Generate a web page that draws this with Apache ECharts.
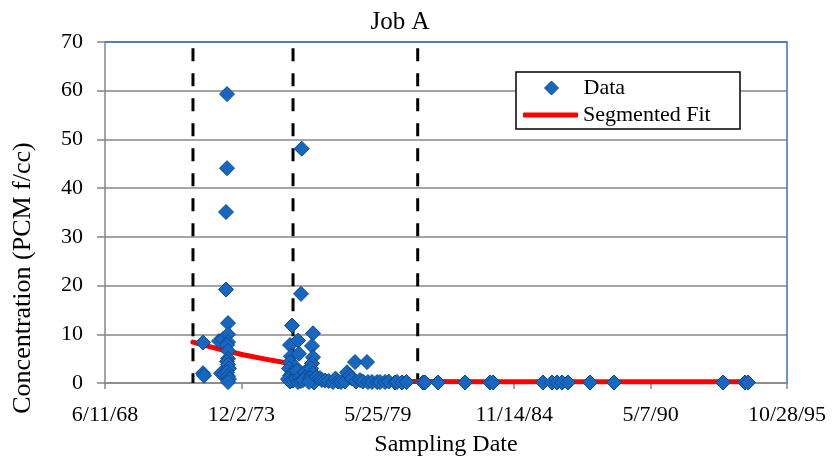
<!DOCTYPE html>
<html>
<head>
<meta charset="utf-8">
<script src="https://cdn.jsdelivr.net/npm/echarts@6/dist/echarts.min.js"></script>
<style>
html,body{margin:0;padding:0;background:#fff;}
#chart{width:837px;height:462px;}
</style>
</head>
<body>
<div id="chart"></div>
<script>
// X axis is in spreadsheet day-serial numbers (25000 = 6/11/68)
const xTickLabels = ['6/11/68', '12/2/73', '5/25/79', '11/14/84', '5/7/90', '10/28/95'];
const yTickLabels = ['0', '10', '20', '30', '40', '50', '60', '70'];

const sampleDays = [
  26437, 26437, 26452, 26672, 26701, 26730, 26745, 26789, 26789, 26774, 26774, 26804,
  26804, 26804, 26789, 26804, 26804, 26789, 26804, 26818, 26789, 26804, 26818, 26804,
  27884, 27874, 27742, 27713, 27830, 27727, 27713, 27786, 27698, 27742, 27713, 27683,
  27713, 27757, 27800, 27830, 27844, 27815, 27859, 27874,
  27930, 27960, 27905,
  28050, 28035, 28050, 28035, 28020, 28050, 28006, 28050, 28064, 27991,
  28100, 28153, 28180, 28226, 28280, 28343, 28380, 28417, 28460, 28519, 28549, 28592,
  28620, 28666, 28680, 28739, 28780, 28842, 28856,
  28915, 28990, 29032, 29106, 29160, 29252, 29282, 29355, 29420,
  29663, 29692, 29883, 30279, 30645, 30689, 31422, 31554, 31628, 31701, 31789, 32112,
  32463, 34062, 34384, 34428
];
const sampleConc = [
  8.3, 2.0, 1.5, 8.6, 2.0, 9.0, 1.8, 59.3, 44.1, 35.1, 19.2, 12.3,
  10.0, 8.4, 7.8, 6.6, 5.0, 4.4, 3.8, 3.0, 2.2, 1.4, 0.8, 0.2,
  48.1, 18.3, 11.8, 7.8, 8.7, 5.5, 4.3, 3.3, 3.0, 2.0, 1.5, 0.8,
  0.3, 0.5, 1.0, 0.2, 6.0, 2.5, 1.2, 0.4,
  2.2, 1.5, 0.6,
  10.2, 7.6, 5.3, 4.0, 3.0, 2.0, 1.0, 0.5, 0.1, 0.2,
  1.2, 1.0, 0.6, 0.5, 0.4, 0.2, 0.9, 0.3, 0.2, 0.3, 2.2, 1.5,
  0.9, 4.3, 0.3, 0.6, 0.3, 4.3, 0.2,
  0.2, 0.2, 0.2, 0.2, 0.3, 0.1, 0.2, 0.1, 0.2,
  0.1, 0.1, 0.1, 0.1, 0.1, 0.1, 0.1, 0.1, 0.1, 0.1, 0.1, 0.1,
  0.1, 0.1, 0.1, 0.1
];

const fitDays = [26290, 26657, 27024, 27390, 27757, 28000, 28300, 28700, 29100, 29585, 30500, 31500, 32500, 33500, 34428];
const fitConc = [8.4, 7.0, 5.8, 4.8, 3.9, 2.0, 0.8, 0.4, 0.32, 0.3, 0.26, 0.25, 0.25, 0.25, 0.25];

const breakDays = [26290, 27757, 29585];
const breakTop = 68.7;

const FONT = '"Liberation Serif", "DejaVu Serif", serif';
const GRAY = '#878787';
const BLUE_BORDER = '#2F74C8';
const MARK_FILL = '#1767C1';
const MARK_EDGE = '#0C4A8E';

const chart = echarts.init(document.getElementById('chart'), null, {renderer: 'canvas'});

const series = [];
breakDays.forEach(function (d) {
  series.push({
    type: 'line',
    silent: true,
    symbol: 'none',
    data: [[d, breakTop], [d, 0]],
    lineStyle: {color: '#000', width: 3, type: [13, 12]},
    z: 2
  });
});
series.push({
  name: 'Segmented Fit',
  type: 'line',
  symbol: 'none',
  showSymbol: false,
  data: fitDays.map(function (d, i) { return [d, fitConc[i]]; }),
  lineStyle: {color: '#FF0000', width: 5, cap: 'round', join: 'round'},
  itemStyle: {color: '#FF0000'},
  z: 3
});
series.push({
  name: 'Data',
  type: 'scatter',
  symbol: 'diamond',
  symbolSize: 15,
  data: sampleDays.map(function (d, i) { return [d, sampleConc[i]]; }),
  itemStyle: {color: MARK_FILL, borderColor: MARK_EDGE, borderWidth: 1, opacity: 1},
  z: 4
});

chart.setOption({
  backgroundColor: '#ffffff',
  animation: false,
  title: {
    text: 'Job A',
    left: 395,
    top: 5,
    textAlign: 'center',
    textStyle: {fontFamily: FONT, fontSize: 25, fontWeight: 'normal', color: '#000'}
  },
  grid: {left: 105, right: 50, top: 42, bottom: 78, containLabel: false},
  legend: [{
    data: [{name: 'Data', icon: 'diamond'}],
    left: 544,
    top: 77,
    padding: 0,
    itemWidth: 14,
    itemHeight: 14,
    z: 20,
    itemStyle: {color: MARK_FILL, borderColor: MARK_EDGE, borderWidth: 1},
    textStyle: {fontFamily: FONT, fontSize: 22, color: '#000', lineHeight: 22, padding: [0, 0, 0, 20]}
  }, {
    data: [{name: 'Segmented Fit', icon: 'roundRect'}],
    left: 523,
    top: 104,
    padding: 0,
    itemWidth: 55,
    itemHeight: 5,
    z: 20,
    itemStyle: {color: '#FF0000'},
    textStyle: {fontFamily: FONT, fontSize: 22, color: '#000', lineHeight: 22}
  }],
  graphic: [{
    type: 'rect',
    z: 10,
    shape: {x: 516, y: 72, width: 224, height: 57},
    style: {fill: '#fff', stroke: '#000', lineWidth: 1.5}
  }, {
    type: 'text',
    x: 23,
    y: 278,
    rotation: Math.PI / 2,
    style: {
      text: 'Concentration (PCM f/cc)',
      fontFamily: FONT,
      fontSize: 26,
      fill: '#000',
      align: 'center',
      verticalAlign: 'middle'
    }
  }],
  xAxis: [{
    type: 'value',
    min: 25000,
    max: 35000,
    interval: 2000,
    name: 'Sampling Date',
    nameLocation: 'middle',
    nameGap: 50,
    nameTextStyle: {fontFamily: FONT, fontSize: 24, color: '#000'},
    axisLine: {show: true, onZero: false, lineStyle: {color: GRAY, width: 1.5}},
    axisTick: {show: true, length: 6, lineStyle: {color: GRAY, width: 1.5}},
    splitLine: {show: false},
    axisLabel: {
      margin: 21,
      fontFamily: FONT,
      fontSize: 22,
      color: '#000',
      formatter: function (v) { return xTickLabels[Math.round((v - 25000) / 2000)] || ''; }
    }
  }, {
    type: 'value',
    position: 'top',
    min: 25000,
    max: 35000,
    interval: 2000,
    axisLine: {show: true, onZero: false, lineStyle: {color: BLUE_BORDER, width: 1.5}},
    axisTick: {show: false},
    axisLabel: {show: false},
    splitLine: {show: false}
  }],
  yAxis: [{
    type: 'value',
    min: 0,
    max: 70,
    interval: 10,
    axisLine: {show: true, onZero: false, lineStyle: {color: GRAY, width: 1.5}},
    axisTick: {show: true, inside: false, length: 8, lineStyle: {color: GRAY, width: 1.5}},
    splitLine: {show: true, lineStyle: {color: GRAY, width: 1.5}},
    axisLabel: {
      margin: 22,
      fontFamily: FONT,
      fontSize: 22,
      color: '#000',
      formatter: function (v) { return yTickLabels[Math.round(v / 10)] || ''; }
    }
  }, {
    type: 'value',
    position: 'right',
    min: 0,
    max: 70,
    interval: 10,
    axisLine: {show: true, onZero: false, lineStyle: {color: BLUE_BORDER, width: 1.5}},
    axisTick: {show: false},
    axisLabel: {show: false},
    splitLine: {show: false}
  }],
  series: series
});
</script>
</body>
</html>
